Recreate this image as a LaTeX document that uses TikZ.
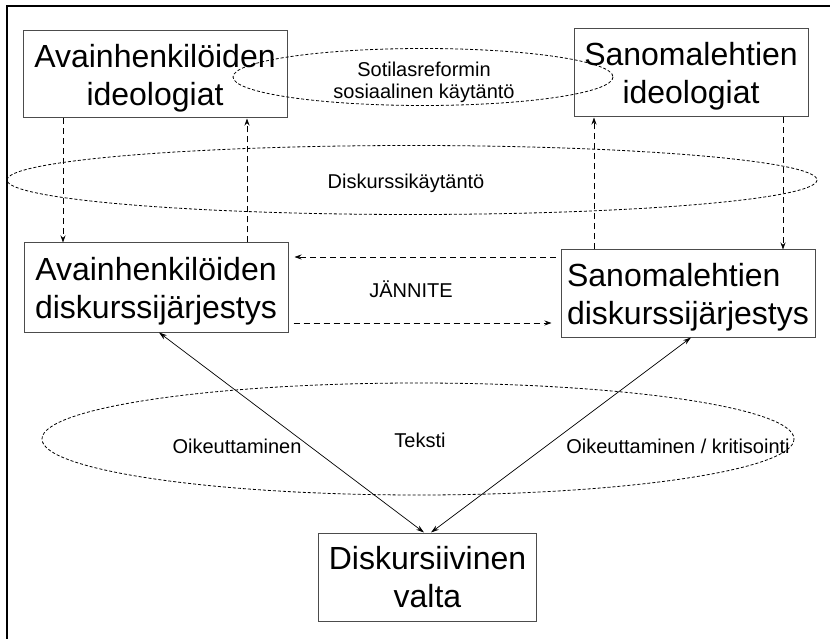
\documentclass[tikz,border=0pt]{standalone}
\usepackage{fontspec}
\setmainfont{Liberation Sans}
\usetikzlibrary{arrows.meta}

\tikzset{
  box/.style={draw=black!70, line width=1pt, inner sep=0pt, align=center,
    text depth=0pt, font=\fontsize{32}{38}\selectfont},
  ring/.style={draw, line width=0.8pt, dash pattern=on 3pt off 2pt},
  lbl/.style={inner sep=0pt, align=center, font=\fontsize{20}{22}\selectfont},
  dasharrow/.style={-{Stealth[length=7pt,width=5pt]}, line width=0.8pt,
    dash pattern=on 6pt off 4pt},
  twoway/.style={{Stealth[length=8pt,width=5pt]}-{Stealth[length=8pt,width=5pt]},
    line width=0.7pt}
}

\begin{document}
\begin{tikzpicture}[x=1pt,y=-1pt]
\useasboundingbox (0,0) rectangle (830,639);
\draw[line width=1.7pt] (7,639) -- (7,6) -- (830,6);

%-------------------------------------
\node[box, minimum width=264, minimum height=87] (ideolA) at (155,74.5) {Avainhenkilöiden\\ideologiat};
\node[box, minimum width=234, minimum height=88] (ideolB) at (691,73) {Sanomalehtien\\ideologiat};
\node[box, minimum width=264, minimum height=89] (diskA) at (156,287.5) {Avainhenkilöiden\\diskurssijärjestys};
\node[box, minimum width=254, minimum height=87, align=left] (diskB) at (688,293.5) {Sanomalehtien\\diskurssijärjestys};
\node[box, minimum width=218, minimum height=88] (valta) at (427.5,577) {Diskursiivinen\\valta};

%-------------------------------------
\draw[ring] (423,77) ellipse [x radius=190, y radius=28.5];
\draw[ring] (412,180) ellipse [x radius=405, y radius=34.5];
\draw[ring] (418,439) ellipse [x radius=376, y radius=56];

\node[lbl] (sotila) at (424,82) {Sotilasreformin\\sosiaalinen käytäntö};
\node[lbl, anchor=base] (kaytanto) at (406,189) {Diskurssikäytäntö};
\node[lbl, anchor=base] (jannite) at (411,297) {JÄNNITE};
\node[lbl, anchor=base] (teksti) at (420,447) {Teksti};
\node[lbl, anchor=base] (oikA) at (237,453) {Oikeuttaminen};
\node[lbl, anchor=base] (oikB) at (678,453) {Oikeuttaminen / kritisointi};

%-------------------------------------
\coordinate (downA) at (63,0);
\coordinate (upA) at (247,0);
\coordinate (upB) at (594,0);
\coordinate (downB) at (783,0);
\coordinate (rowT) at (0,257);
\coordinate (rowB) at (0,323);
\coordinate (footA) at (159,0);
\coordinate (footB) at (691,0);
\coordinate (headA) at (424,0);
\coordinate (headB) at (431,0);

\draw[dasharrow] (ideolA.south -| downA) -- (diskA.north -| downA);
\draw[dasharrow] (diskA.north -| upA) -- (ideolA.south -| upA);
\draw[dasharrow] (diskB.north -| upB) -- (ideolB.south -| upB);
\draw[dasharrow] (ideolB.south -| downB) -- (diskB.north -| downB);

\draw[dasharrow, shorten <=5pt, shorten >=6pt] (diskB.west |- rowT) -- (diskA.east |- rowT);
\draw[dasharrow, shorten <=5pt, shorten >=9pt] (diskA.east |- rowB) -- (diskB.west |- rowB);

\draw[twoway] (diskA.south -| footA) -- (valta.north -| headA);
\draw[twoway] (diskB.south -| footB) -- (valta.north -| headB);
\end{tikzpicture}
\end{document}
